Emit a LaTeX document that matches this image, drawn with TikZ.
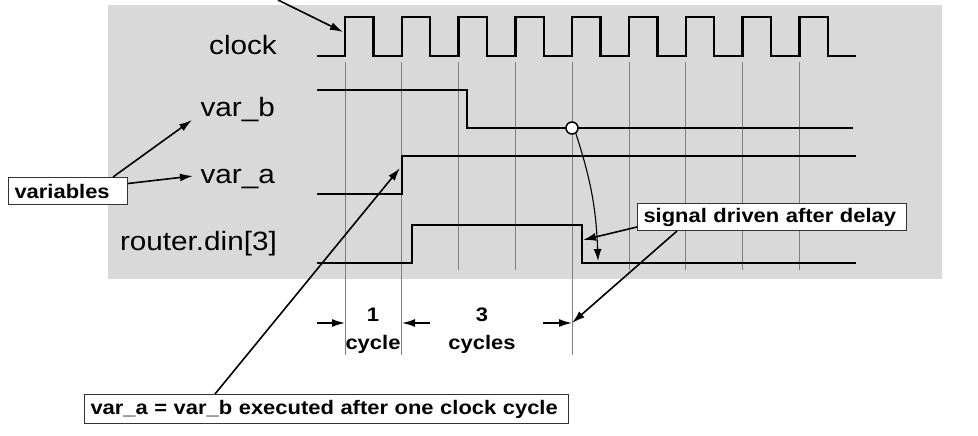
\documentclass[tikz,border=0pt]{standalone}
\usepackage{fontspec}
\newfontfamily\wavefont[FakeStretch=1.12]{Liberation Sans}
\usepackage{tikz}
\usetikzlibrary{arrows.meta}
\definecolor{panel}{RGB}{217,217,217}
\definecolor{gridgray}{RGB}{128,128,128}
\tikzset{
	signode/.style={inner sep=0pt, font=\wavefont\fontsize{26.5}{30}\selectfont},
	boxnode/.style={draw=black!80, fill=white, line width=1pt, inner xsep=6pt, inner ysep=0pt, align=left, font=\wavefont\bfseries\fontsize{19.6}{23}\selectfont},
	cyclenode/.style={inner sep=0pt, align=center, font=\wavefont\bfseries\fontsize{19.6}{28}\selectfont},
	wave/.style={line width=2.4pt, line join=miter},
	gridline/.style={gridgray, line width=0.8pt},
	callout/.style={-{Latex[length=13pt,width=8pt]}, line width=1.6pt},
	thincallout/.style={-{Latex[length=12pt,width=8pt]}, line width=1.1pt}
}

\begin{document}
\begin{tikzpicture}[x=1pt, y=-1pt]
	\useasboundingbox (0,0) rectangle (978,436);
	\fill[panel] (108,5) rectangle (942,279);
	
	% clock edges and grid
	\foreach \k in {0,...,8}
		\draw[gridline] ({345+\k*56.8},62) -- ({345+\k*56.8},270);
	\foreach \k in {0,1,4}
		\draw[gridline] ({345+\k*56.8},270) -- ({345+\k*56.8},355);
	\draw[wave] (317,56) foreach \k in {0,...,8}{ -- ({345+\k*56.8},56) -- ({345+\k*56.8},17) -- ({373.4+\k*56.8},17) -- ({373.4+\k*56.8},56) } -- (856,56);
	
	\draw[wave] (317,90) -- (467,90) -- (467,128) -- (853,128);
	\draw[wave] (317,194) -- (402,194) -- (402,156) -- (856,156);
	\draw[wave] (317,263) -- (412,263) -- (412,225) -- (582,225) -- (582,263) -- (856,263);
	
	\node[signode, anchor=base east] at (277,55) (clk)  {clock};
	\node[signode, anchor=base east] at (275,117) (varb) {var\_b};
	\node[signode, anchor=base east] at (275,183) (vara) {var\_a};
	\node[signode, anchor=base east] at (277,250) (din)  {router.din[3]};
	
	\node[circle, draw, fill=white, line width=1.5pt, minimum size=12pt, inner sep=0pt] at (572,128) (bdrive) {};
	
	\node[boxnode, anchor=north west, text width=107pt, minimum height=27pt] at (8,177) (vars) {variables};
	\node[boxnode, anchor=north west, text width=257pt, minimum height=27pt] at (637,203) (delay) {signal driven after delay};
	\node[boxnode, anchor=north west, text width=472pt, minimum height=29pt] at (84,394) (exec) {var\_a = var\_b executed after one clock cycle};
	
	\node[cyclenode] at (373,331) (C1) {1\\cycle};
	\node[cyclenode] at (482,331) (C3) {3\\cycles};
	
	\coordinate (clkedge) at (343,32);
	\coordinate (clksrc)  at (278,0);
	\coordinate (btip)    at (192,120);
	\coordinate (atip)    at (193,176);
	\coordinate (arise)   at (400,168);
	\coordinate (dinfall) at (583,240);
	\coordinate (dinlow)  at (598,261);
	\coordinate (G1) at (345,323);
	\coordinate (G2) at (402,323);
	\coordinate (G5) at (572,323);
	
	\draw[callout] (clksrc) -- (clkedge);
	\draw[callout] ([xshift=-15pt]vars.north east) -- (btip);
	\draw[callout] ([yshift=7.5pt]vars.east) -- (atip);
	\draw[callout] ([xshift=131pt]exec.north west) -- (arise);
	\draw[thincallout] (bdrive.-55) to[out=-72, in=92] (dinlow);
	\draw[callout] ([yshift=-10pt]delay.west) -- (dinfall);
	\draw[callout] ([xshift=40pt]delay.south west) -- (G5);
	
	\draw[callout] ([xshift=-28pt]G1) -- (G1);
	\draw[callout] ([xshift=28pt]G2) -- (G2);
	\draw[callout] ([xshift=-29pt]G5) -- (G5);
\end{tikzpicture}
\end{document}
